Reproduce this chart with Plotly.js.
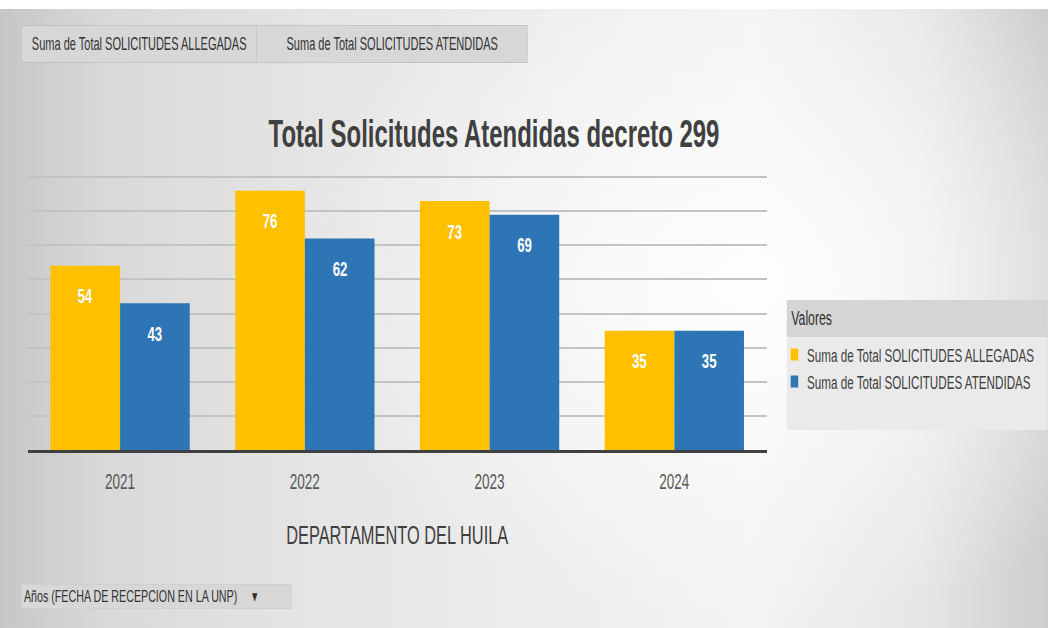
<!DOCTYPE html>
<html><head><meta charset="utf-8">
<script src="https://cdn.plot.ly/plotly-3.0.1.min.js"></script>
<style>
html,body{margin:0;padding:0;width:1048px;height:628px;overflow:hidden;}
body{background:
  radial-gradient(ellipse 45% 55% at 72% 45%, rgba(255,255,255,0.9) 0%, rgba(255,255,255,0) 100%),
  linear-gradient(to right,#c6c6c6 0%,#d9d9d9 10%,#e5e5e5 30%,#eeeeee 55%,#f3f3f3 72%,#e6e6e6 88%,#cdcdcd 100%);}
#top{position:absolute;left:0;top:0;width:1048px;height:9px;background:#fff;}
#chart{position:absolute;left:0;top:0;transform-origin:0 0;}
</style></head>
<body><div id="top"></div><div id="chart"></div>
<script>
const years = ['2021', '2022', '2023', '2024'];
const allegadas = [54, 76, 73, 35];
const atendidas = [43, 62, 69, 35];
const seriesNames = ['Suma de Total SOLICITUDES ALLEGADAS', 'Suma de Total SOLICITUDES ATENDIDAS'];
const colors = ['#FFC000', '#2E75B6'];
const chartTitle = 'Total Solicitudes Atendidas decreto 299';
const xTitle = 'DEPARTAMENTO DEL HUILA';
const legendTitle = 'Valores';
const filterLabel = 'Años (FECHA DE RECEPCION EN LA UNP)';

// The reference uses a condensed face; the whole figure is drawn wider and squeezed horizontally.
const S = 0.63;
const FONT = '"Liberation Sans", Arial, sans-serif';
const W = 1048, H = 628, L = 28, R = 767, T = 170, B = 450;
const WV = W / S;
const px = x => (x - L) / (R - L);
const py = y => (B - y) / (B - T);
const BARGAP = 0.246;

const chartDiv = document.getElementById('chart');
chartDiv.style.width = WV + 'px';
chartDiv.style.height = H + 'px';
chartDiv.style.transform = 'scaleX(' + S + ')';

const seriesVals = [allegadas, atendidas];
const data = seriesVals.map((vals, j) => ({
  type: 'bar', name: seriesNames[j], x: years, y: vals, legendgroup: 'g' + j,
  marker: {color: colors[j], line: {width: 0}},
  hoverinfo: 'x+y+name'
}));

// value labels, placed inside the top of each bar
const barHalfShift = ((R - L) / years.length) * (1 - BARGAP) / 4 / S;
const labelAnns = [];
seriesVals.forEach((vals, j) => vals.forEach((v, i) => labelAnns.push({
  x: years[i], y: v, xref: 'x', yref: 'y', text: String(v), showarrow: false,
  xshift: (j === 0 ? -1 : 1) * barHalfShift, yshift: -30, yanchor: 'middle',
  font: {family: FONT, size: 21, color: '#ffffff', weight: 'bold'}
})));

const layout = {
  width: WV, height: H,
  paper_bgcolor: 'rgba(0,0,0,0)', plot_bgcolor: 'rgba(0,0,0,0)',
  margin: {l: L / S, r: (W - R) / S, t: T, b: H - B, pad: 0},
  barmode: 'group', bargap: BARGAP, bargroupgap: 0,
  font: {family: FONT, color: '#404040'},
  title: {text: chartTitle, font: {family: FONT, size: 38, color: '#404040', weight: 'bold'},
          x: 494 / W, xanchor: 'center', xref: 'container', y: 1 - 134 / H, yanchor: 'middle', yref: 'container'},
  xaxis: {showgrid: false, showline: true, linecolor: '#404040', linewidth: 3, ticks: '',
          ticklabelstandoff: 10, tickfont: {family: FONT, size: 21.5, color: '#595959'},
          title: {text: xTitle, font: {family: FONT, size: 26, color: '#404040'}, standoff: 34},
          fixedrange: true},
  yaxis: {range: [0, 82.1], dtick: 10, showgrid: true, gridcolor: '#c3c3c3', gridwidth: 2,
          showticklabels: false, zeroline: false, showline: false, ticks: '', fixedrange: true},
  showlegend: true,
  legend: {xref: 'container', yref: 'container', x: 1241 / WV, y: 1 - 336 / H, xanchor: 'left', yanchor: 'top',
           bgcolor: 'rgba(0,0,0,0)', font: {family: FONT, size: 18.5, color: '#404040'},
           tracegroupgap: 10, itemwidth: 30, traceorder: 'normal'},
  shapes: [
    {type: 'rect', xref: 'paper', yref: 'paper', x0: px(787), x1: px(1048), y0: py(337), y1: py(430),
     fillcolor: '#eaeaea', line: {width: 0}, layer: 'below'},
    {type: 'rect', xref: 'paper', yref: 'paper', x0: px(787), x1: px(1048), y0: py(300), y1: py(337),
     fillcolor: '#d5d5d5', line: {width: 0}, layer: 'below'}
  ],
  annotations: [
    {text: legendTitle, xref: 'paper', yref: 'paper', x: px(790), y: py(318), xanchor: 'left', yanchor: 'middle',
     showarrow: false, font: {family: FONT, size: 19.5, color: '#303030'}},
    {text: seriesNames[0], xref: 'paper', yref: 'paper', x: px(139.5), y: py(44), xanchor: 'center', yanchor: 'middle',
     showarrow: false, width: 233 / S, height: 34, bgcolor: '#d7d7d7', bordercolor: '#c4c4c4', borderwidth: 1,
     font: {family: FONT, size: 17.5, color: '#333333'}},
    {text: seriesNames[1], xref: 'paper', yref: 'paper', x: px(392.5), y: py(44), xanchor: 'center', yanchor: 'middle',
     showarrow: false, width: 269 / S, height: 34, bgcolor: '#d7d7d7', bordercolor: '#c4c4c4', borderwidth: 1,
     font: {family: FONT, size: 17.5, color: '#333333'}},
    {text: filterLabel + '&nbsp;&nbsp;&nbsp;&nbsp;&nbsp;▾', xref: 'paper', yref: 'paper', x: px(157), y: py(596),
     xanchor: 'center', yanchor: 'middle', borderpad: 3,
     showarrow: false, width: 265 / S, height: 17, bgcolor: '#d7d7d7', bordercolor: '#d0d0d0', borderwidth: 1, align: 'left',
     font: {family: FONT, size: 17, color: '#333333'}}
  ].concat(labelAnns)
};

Plotly.newPlot('chart', data, layout, {displayModeBar: false, staticPlot: true});
</script></body></html>
